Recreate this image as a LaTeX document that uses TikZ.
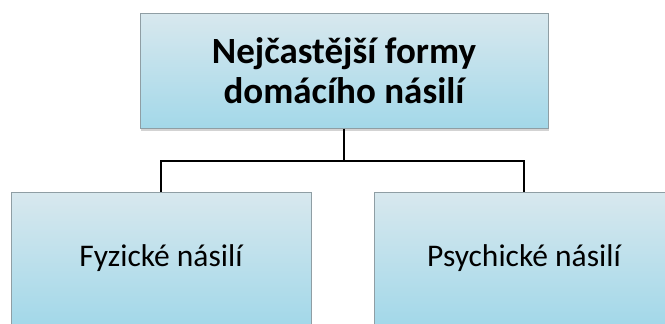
\documentclass[tikz,border=0pt]{standalone}
\usepackage{fontspec}
\setmainfont{Carlito}
\usetikzlibrary{shadows}

\definecolor{boxtop}{HTML}{D8E8EE}
\definecolor{boxbottom}{HTML}{A3D8E9}
\definecolor{boxline}{HTML}{8F9EA4}

\tikzset{
  formbox/.style={draw=boxline, line width=1pt, top color=boxtop, bottom color=boxbottom,
    drop shadow={shadow xshift=1pt, shadow yshift=-2.5pt, opacity=0.35},
    align=center, inner sep=0pt},
  branch/.style={line width=1.5pt, black}
}

\begin{document}
\begin{tikzpicture}[x=1pt, y=1pt]
  \useasboundingbox (0,0) rectangle (665,-324);

  % Hlavni box
  \node[formbox, minimum width=408pt, minimum height=115pt, font=\fontsize{37}{40}\selectfont\bfseries]
    (formy) at (344,-70.5) {Nejčastější formy\\domácího násilí};

  % Druhy nasili
  \node[formbox, minimum width=300pt, minimum height=132pt, font=\fontsize{31.5}{36}\selectfont]
    (fyzicke) at (161,-258) {Fyzické násilí};
  \node[formbox, minimum width=300pt, minimum height=132pt, font=\fontsize{31.5}{36}\selectfont]
    (psychicke) at (524,-258) {Psychické násilí};

  % Spojnice
  \coordinate (uzel) at (formy.south |- 0,-161);
  \draw[branch] (formy.south) -- (uzel);
  \draw[branch] (fyzicke.north) |- (uzel) -| (psychicke.north);
\end{tikzpicture}
\end{document}
